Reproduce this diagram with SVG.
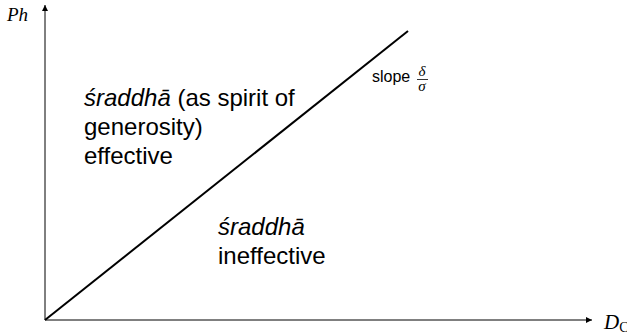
<svg xmlns="http://www.w3.org/2000/svg" width="627" height="336" viewBox="0 0 627 336">
<style>
.t{font-family:"Liberation Sans",Arial,sans-serif;font-size:24px;fill:#000}
.s{font-family:"Liberation Sans",Arial,sans-serif;font-size:16px;fill:#000}
.m{font-family:"Liberation Serif","Times New Roman",serif;font-style:italic;fill:#000}
.ax{stroke:#000;stroke-width:1;fill:none}
</style>
<defs>
<marker id="ah" viewBox="0 0 10 10" refX="10" refY="5" markerWidth="6" markerHeight="6" markerUnits="userSpaceOnUse" orient="auto">
<path d="M0,0 L10,5 L0,10 z" fill="#000"/>
</marker>
</defs>
<rect width="627" height="336" fill="#fff"/>
<g id="connectors">
<line class="ax" x1="45" y1="320" x2="45" y2="5" marker-end="url(#ah)"/>
<line class="ax" x1="45" y1="320" x2="592" y2="320" marker-end="url(#ah)"/>
<line x1="45" y1="320" x2="408" y2="31" stroke="#000" stroke-width="2"/>
</g>
<g id="ylabel"><text class="m" x="7" y="21" font-size="19">Ph</text></g>
<g id="xlabel"><text class="m" x="604" y="329" font-size="21">D<tspan font-size="14" dy="3" font-style="normal">C</tspan></text></g>
<g id="slope">
<text class="s" x="372" y="82">slope</text>
<text class="m" x="422" y="76" font-size="15" text-anchor="middle">δ</text>
<line x1="417" y1="79.5" x2="428" y2="79.5" stroke="#000" stroke-width="0.8"/>
<text class="m" x="422" y="91" font-size="15" text-anchor="middle">σ</text>
</g>
<g id="effective">
<text class="t" x="84" y="106"><tspan font-style="italic">śraddhā</tspan> (as spirit of</text>
<text class="t" x="84" y="135">generosity)</text>
<text class="t" x="84" y="164">effective</text>
</g>
<g id="ineffective">
<text class="t" x="218" y="235" font-style="italic">śraddhā</text>
<text class="t" x="218" y="264">ineffective</text>
</g>
</svg>
